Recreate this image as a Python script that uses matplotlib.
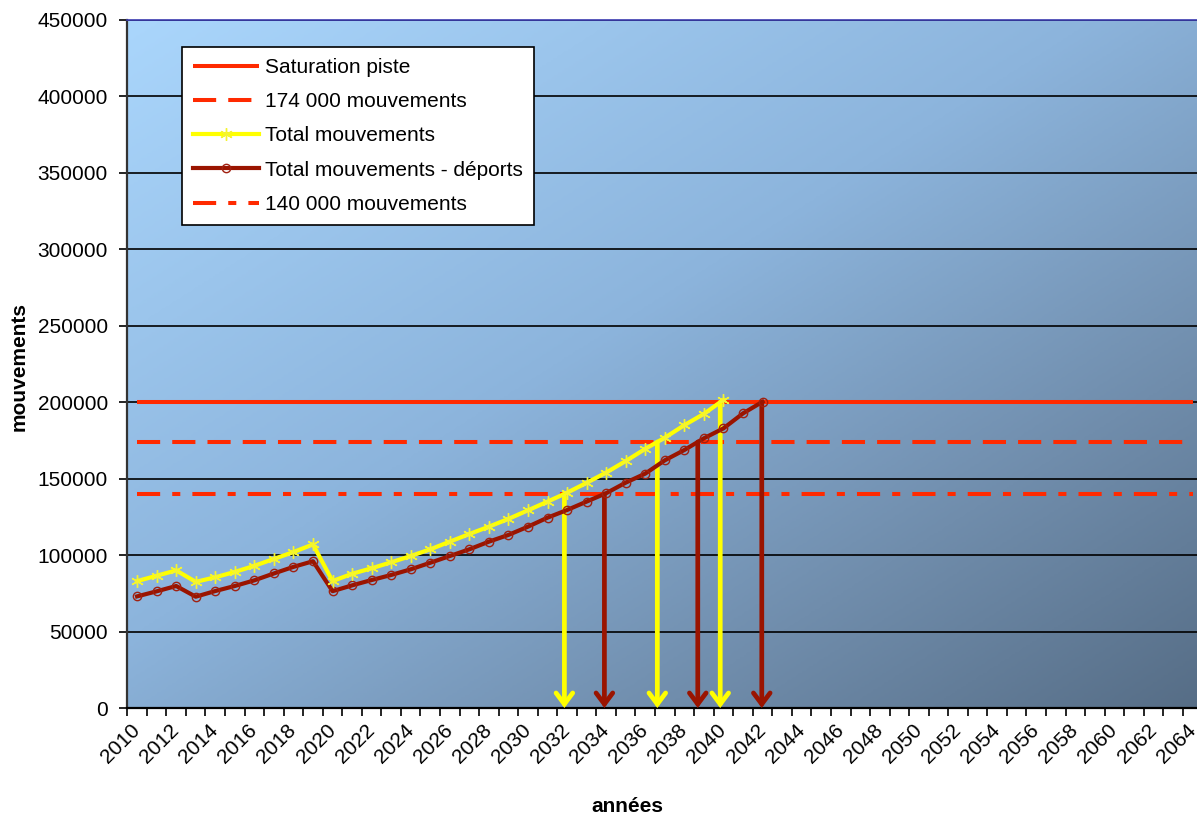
import numpy as np
import matplotlib
matplotlib.use("Agg")
import matplotlib.pyplot as plt
from matplotlib.lines import Line2D
from matplotlib.colors import LinearSegmentedColormap

plt.rcParams['font.family'] = ['Liberation Sans', 'DejaVu Sans']

# --- data -------------------------------------------------------------
years_total = list(range(2010, 2041))
total_mouvements = [
    83000, 86500, 90000, 82500, 85500, 89000, 93000, 97500, 102000, 107000,
    83000, 87800, 91400, 95300, 99400, 103800, 108800, 113800, 118600, 123700,
    129300, 135000, 140800, 147300, 154000, 161500, 169500, 176800, 185000, 192400,
    201500,
]

years_deports = list(range(2010, 2043))
total_moins_deports = [
    73000, 76300, 79800, 72800, 76500, 79800, 83500, 88000, 92300, 96000,
    76400, 80200, 83700, 87000, 90700, 95000, 99400, 103800, 108800, 113200,
    118600, 124500, 129500, 135000, 140500, 147400, 153300, 162000, 168750, 176400,
    182900, 192700, 200300,
]

year_first, year_last = 2010, 2064
saturation_piste = 200000
seuil_174 = 174000
seuil_140 = 140000

y_ticks = list(range(0, 450001, 50000))
x_label_years = list(range(2010, 2065, 2))

# --- colours ----------------------------------------------------------
RED = '#ff2a00'
YELLOW = '#ffff00'
DARK_RED = '#9a1400'

fig = plt.figure(figsize=(11.97, 8.18), dpi=100)
ax = fig.add_axes([0.10635, 0.13447, 0.8981, 0.8411])

# diagonal gradient fill of the plot area
cmap = LinearSegmentedColormap.from_list(
    'plotarea',
    [(0.0, '#aad6fc'), (0.45, '#8cb4dc'), (0.75, '#708dac'), (1.0, '#566d86')])
H, W = 300, 500
u = np.linspace(0, 1, W)[None, :]
v = np.linspace(0, 1, H)[:, None]
t = (u + v) / 2
ax.imshow(cmap(t), extent=(0, 1, 0, 1), transform=ax.transAxes,
          aspect='auto', origin='upper', zorder=0, interpolation='bilinear')

# threshold lines
lw_thr = 2.9
ax.plot([year_first, year_last], [saturation_piste] * 2, color=RED, lw=lw_thr,
        solid_capstyle='butt', zorder=2)
ax.plot([year_first, year_last], [seuil_174] * 2, color=RED, lw=lw_thr,
        dashes=(5.75, 3.0), dash_capstyle='butt', zorder=2)
ax.plot([year_first, year_last], [seuil_140] * 2, color=RED, lw=lw_thr,
        dashes=(5.75, 3.0, 2.0, 3.0), dash_capstyle='butt', zorder=2)


def crossing(years, values, level):
    yv = np.asarray(years, float)
    vv = np.asarray(values, float)
    i = int(np.argmax(vv >= level))
    return yv[i - 1] + (level - vv[i - 1]) / (vv[i] - vv[i - 1]) * (yv[i] - yv[i - 1])


# arrows from each threshold down to the axis
for years, values, col in ((years_total, total_mouvements, YELLOW),
                           (years_deports, total_moins_deports, DARK_RED)):
    for level in (seuil_140, seuil_174, saturation_piste):
        xc = crossing(years, values, level)
        ax.annotate('', xy=(xc, 0), xytext=(xc, level),
                    arrowprops=dict(arrowstyle='->,head_length=0.4,head_width=0.3',
                                    color=col, lw=3.4, shrinkA=0, shrinkB=0,
                                    mutation_scale=20, joinstyle='miter'),
                    zorder=3, annotation_clip=False)

# series
ax.plot(years_total, total_mouvements, color=YELLOW, lw=3.0, marker=(6, 2, 0),
        ms=9, mec='#f4f430', mew=1.0, zorder=5)
ax.plot(years_deports, total_moins_deports, color=DARK_RED, lw=3.0, marker='o',
        ms=6, mfc='none', mec='#a02010', mew=1.0, zorder=4)

# axes
ax.set_xlim(year_first - 0.5, year_last + 0.5)
ax.set_ylim(0, 450000)
ax.set_yticks(y_ticks)
ax.set_yticklabels([str(y) for y in y_ticks])
ax.set_axisbelow(True)
ax.yaxis.grid(True, color='black', lw=1.2)
ax.set_xticks(x_label_years)
ax.set_xticklabels([str(y) for y in x_label_years], rotation=45, ha='right',
                   va='center', rotation_mode='anchor')
ax.set_xticks(np.arange(year_first - 0.5, year_last + 0.6, 1), minor=True)
ax.tick_params(axis='x', which='major', length=0, pad=14, labelsize=15)
ax.tick_params(axis='x', which='minor', length=6, width=1.2, direction='out')
ax.tick_params(axis='y', length=6, width=1.2, direction='out', pad=8, labelsize=15)

ax.spines['right'].set_visible(False)
ax.spines['top'].set_color('#3b3bb0')
ax.spines['top'].set_linewidth(1.2)
ax.spines['left'].set_color('#333333')
ax.spines['left'].set_linewidth(1.6)
ax.spines['bottom'].set_color('black')
ax.spines['bottom'].set_linewidth(1.6)

ax.set_ylabel('mouvements', fontsize=15, fontweight='bold')
ax.yaxis.set_label_coords(-0.092, 0.497)
ax.set_xlabel('années', fontsize=15, fontweight='bold')
ax.xaxis.set_label_coords(0.465, -0.13)

# legend
handles = [
    Line2D([], [], color=RED, lw=lw_thr, solid_capstyle='butt'),
    Line2D([], [], color=RED, lw=lw_thr, dashes=(5.75, 3.0)),
    Line2D([], [], color=YELLOW, lw=3.0, marker=(6, 2, 0), ms=9, mec='#f4f430'),
    Line2D([], [], color=DARK_RED, lw=3.0, marker='o', ms=6, mfc='none', mec='#a02010'),
    Line2D([], [], color=RED, lw=lw_thr, dashes=(5.75, 3.0, 2.0, 3.0)),
]
labels = ['Saturation piste', '174 000 mouvements', 'Total mouvements',
          'Total mouvements - déports', '140 000 mouvements']
leg = ax.legend(handles, labels, loc='upper left', bbox_to_anchor=(0.0509, 0.9608),
                borderaxespad=0, frameon=True, fancybox=False, edgecolor='black',
                framealpha=1, fontsize=15, handlelength=3.15, handletextpad=0.3,
                labelspacing=0.73, borderpad=0.53, markerscale=1.0)
leg.get_frame().set_linewidth(1.2)
leg.set_zorder(10)

fig.savefig('out.png', dpi=100)
